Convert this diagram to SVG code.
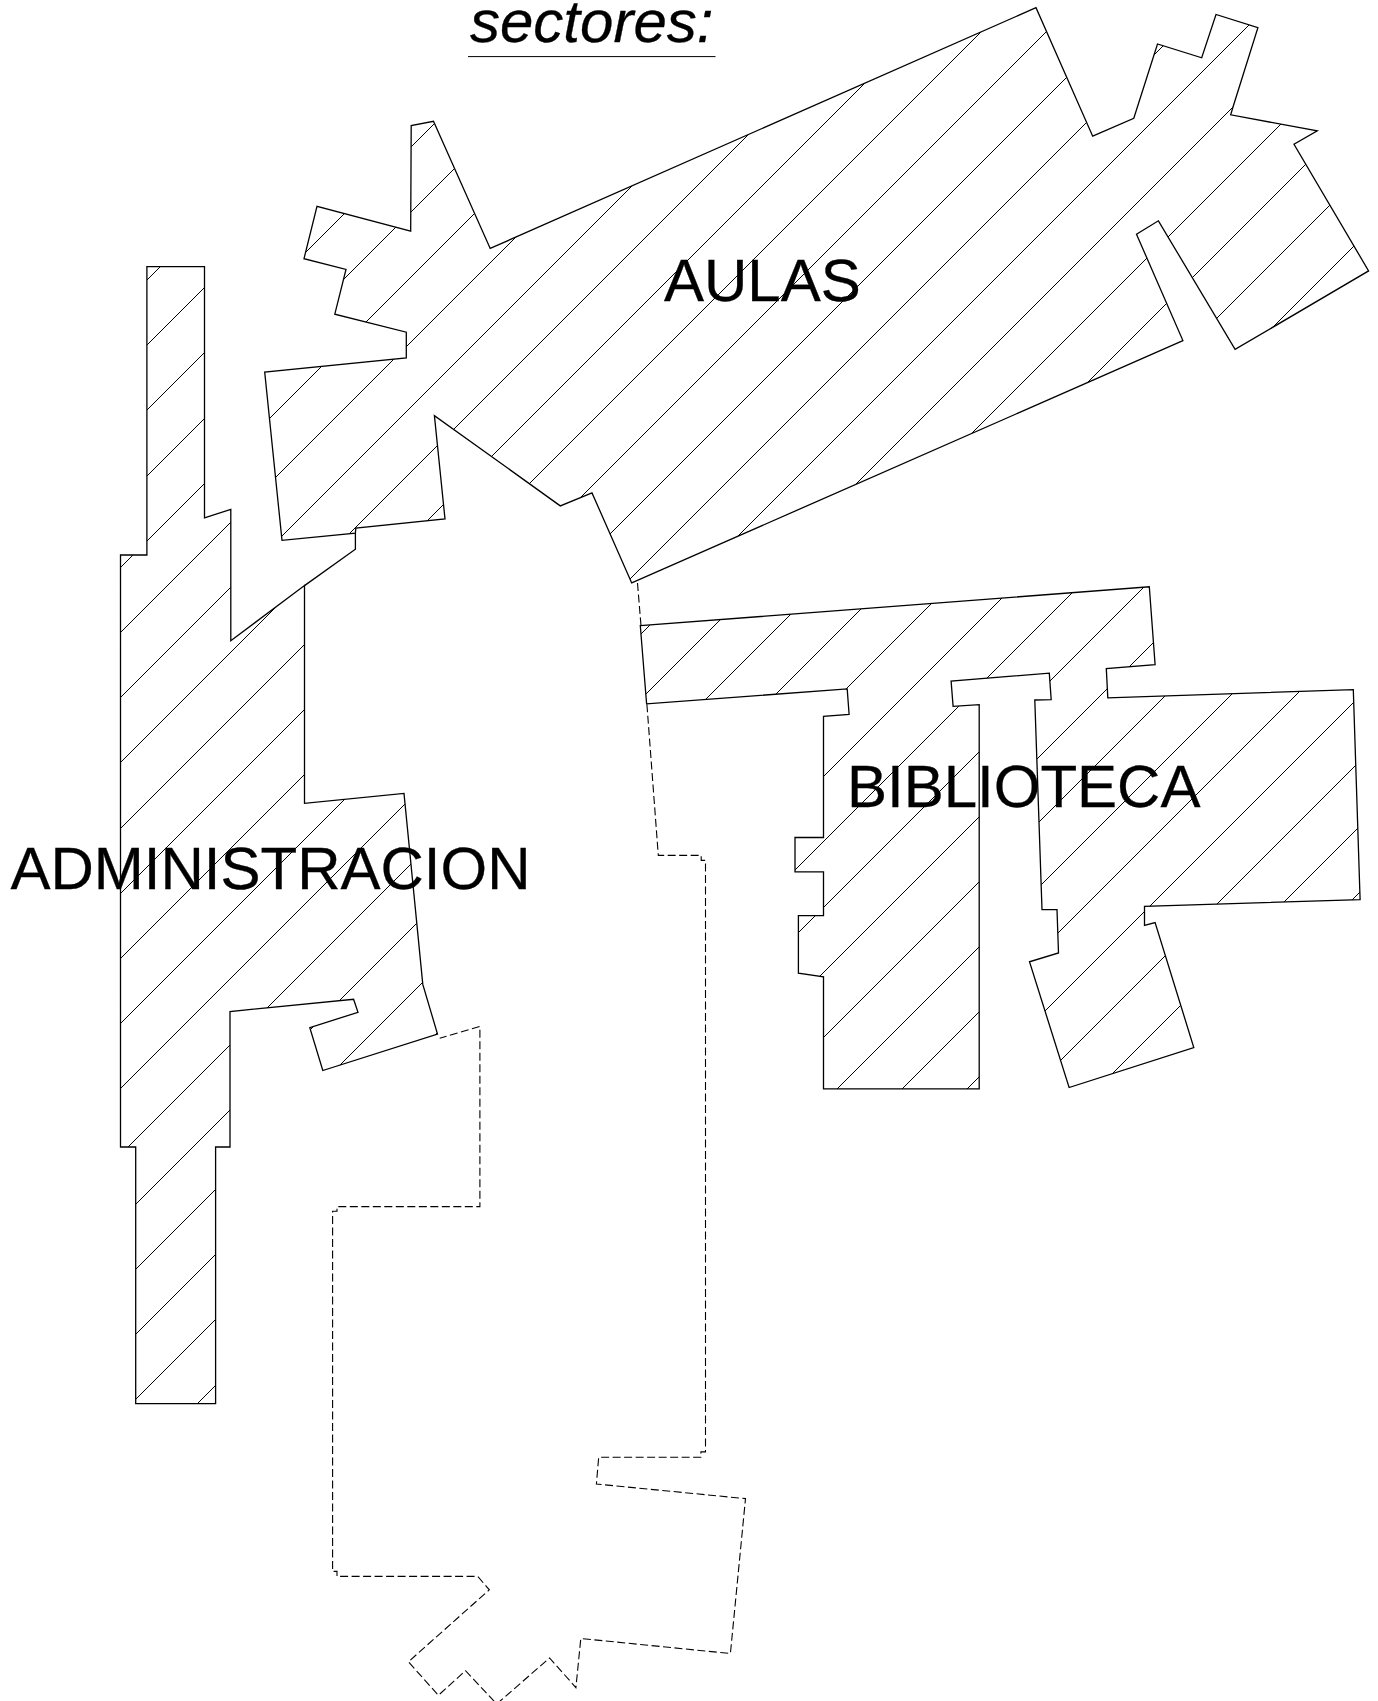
<svg xmlns="http://www.w3.org/2000/svg" width="1378" height="1701" viewBox="0 0 1378 1701">
<style>
.o{fill:none;stroke:#000;stroke-width:1.3;stroke-linejoin:miter}
.h{fill:none;stroke:#000;stroke-width:1}
.d{fill:none;stroke:#000;stroke-width:1.1;stroke-dasharray:8 3.5}
.t{font-family:"Liberation Sans",Arial,sans-serif;font-size:60px;fill:#000;stroke:#000;stroke-width:.3}
</style>
<defs>
<clipPath id="ca"><polygon points="631.7,582.9 1182.9,340.6 1136.5,234.2 1158.4,220.8 1235.1,349.4 1368.6,270.9 1294,144.3 1317.3,130.9 1230.7,114.8 1233,107 1257.9,27.6 1216,14.5 1201.7,57.8 1157.5,44 1133.8,118.3 1092.7,136.2 1036,7.7 490.2,248.4 433.5,121.3 411.2,125.5 410.7,231.2 317,206.3 304,258.7 346,269.4 334.8,314.2 406.3,332.2 406.3,357.8 264.7,372 282,540.4 355.4,533.1 355.8,528.1 445,519 434.4,415.6 560.3,505.9 592,492.9"/></clipPath>
<clipPath id="cb"><polygon points="146.9,266.7 204.5,266.7 204.5,517.8 230.8,509.4 230.8,640.7 304.5,585.6 304.5,803.3 404,793.4 422.8,984.4 437.5,1034 322.8,1070.5 309.8,1027.6 358,1012.3 353.6,999.3 230,1011.5 230,1147 215.6,1147 215.6,1403.6 135.7,1403.6 135.7,1147 120.5,1147 120.5,555 146.9,555"/></clipPath>
<clipPath id="cc"><polygon points="640.3,625.7 1149.3,586.8 1155.1,664.6 1106.3,668.6 1107.8,697.9 1353.3,689.6 1360.1,899.6 1144.5,906.4 1144.5,925.4 1155.1,922.5 1193.8,1047.5 1069.1,1087.5 1029.5,961.8 1058.5,952.9 1057,909.6 1042,909.6 1034.8,700 1051.2,699.6 1049.3,673.2 951.1,681.1 953.1,706.4 979.2,704.6 979.2,1088.9 823.5,1088.9 823.5,976.8 798.4,973.2 798.4,915.7 823.5,915.7 823.5,871.8 795,871.8 795,837.5 823.5,837.5 823.5,716.4 849.1,714.3 847.2,688.9 646.6,703.9"/></clipPath>
</defs>
<g id="aulas">
<path class="h" clip-path="url(#ca)" d="M0 558L558 0M0 623L623 0M0 688L688 0M0 753L753 0M0 818L818 0M0 883L883 0M0 948L948 0M0 1013L1013 0M0 1078L1078 0M0 1144L1144 0M0 1209L1209 0M0 1274L1274 0M0 1340L1340 0M0 1405L1405 0M0 1470L1470 0M0 1535L1535 0M0 1600L1600 0"/>
<polygon class="o" points="631.7,582.9 1182.9,340.6 1136.5,234.2 1158.4,220.8 1235.1,349.4 1368.6,270.9 1294,144.3 1317.3,130.9 1230.7,114.8 1233,107 1257.9,27.6 1216,14.5 1201.7,57.8 1157.5,44 1133.8,118.3 1092.7,136.2 1036,7.7 490.2,248.4 433.5,121.3 411.2,125.5 410.7,231.2 317,206.3 304,258.7 346,269.4 334.8,314.2 406.3,332.2 406.3,357.8 264.7,372 282,540.4 355.4,533.1 355.8,528.1 445,519 434.4,415.6 560.3,505.9 592,492.9"/>
<text class="t" x="664" y="301">AULAS</text>
</g>
<g id="administracion">
<path class="h" clip-path="url(#cb)" d="M0 427L427 0M0 492L492 0M0 557L557 0M0 623L623 0M0 688L688 0M0 753L753 0M0 818L818 0M0 883L883 0M0 949L949 0M0 1014L1014 0M0 1079L1079 0M0 1144L1144 0M0 1209L1209 0M0 1275L1275 0M0 1340L1340 0M0 1405L1405 0M0 1470L1470 0M0 1535L1535 0M0 1601L1601 0"/>
<polygon class="o" points="146.9,266.7 204.5,266.7 204.5,517.8 230.8,509.4 230.8,640.7 304.5,585.6 304.5,803.3 404,793.4 422.8,984.4 437.5,1034 322.8,1070.5 309.8,1027.6 358,1012.3 353.6,999.3 230,1011.5 230,1147 215.6,1147 215.6,1403.6 135.7,1403.6 135.7,1147 120.5,1147 120.5,555 146.9,555"/>
<polyline class="o" points="304.5,585.6 355.4,549.2 355.4,533.1"/>
<text class="t" x="10.5" y="888.5">ADMINISTRACION</text>
</g>
<g id="biblioteca">
<path class="h" clip-path="url(#cc)" d="M0 1275L1275 0M0 1340L1340 0M0 1405L1405 0M0 1470L1470 0M0 1535L1535 0M0 1600L1600 0M0 1665L1665 0M0 1731L1731 0M0 1796L1796 0M0 1861L1861 0M0 1926L1926 0M0 1991L1991 0M0 2056L2056 0M0 2121L2121 0M0 2186L2186 0M0 2252L2252 0"/>
<polygon class="o" points="640.3,625.7 1149.3,586.8 1155.1,664.6 1106.3,668.6 1107.8,697.9 1353.3,689.6 1360.1,899.6 1144.5,906.4 1144.5,925.4 1155.1,922.5 1193.8,1047.5 1069.1,1087.5 1029.5,961.8 1058.5,952.9 1057,909.6 1042,909.6 1034.8,700 1051.2,699.6 1049.3,673.2 951.1,681.1 953.1,706.4 979.2,704.6 979.2,1088.9 823.5,1088.9 823.5,976.8 798.4,973.2 798.4,915.7 823.5,915.7 823.5,871.8 795,871.8 795,837.5 823.5,837.5 823.5,716.4 849.1,714.3 847.2,688.9 646.6,703.9"/>
<text class="t" x="847" y="807">BIBLIOTECA</text>
</g>
<g id="limite">
<polyline class="d" points="637.5,583 641,625.7"/>
<polyline class="d" points="646.9,704.2 658.3,855.4 701.2,855.4 701.2,860.4 705.5,860.4 705.5,1451.9 700.9,1451.9 700.9,1457.2 598.7,1457.2 596.4,1484 745.5,1498.6 730.4,1653.5 580.8,1638.5 575.9,1687.6 549.6,1658 496.7,1704 465.5,1670.7 438.4,1695.3 408.4,1661.8 489.3,1589.8 477.7,1576.4 337,1576.4 337,1571.4 332.6,1571.4 332.6,1211.2 337,1211.2 337,1206.6 479.9,1206.6 479.9,1026.5 439.7,1038.3"/>
</g>
<g id="titulo">
<text class="t" x="470" y="42" font-style="italic">sectores:</text>
<line x1="468" y1="56.6" x2="715.5" y2="56.6" stroke="#000" stroke-width="1"/>
</g>
</svg>
